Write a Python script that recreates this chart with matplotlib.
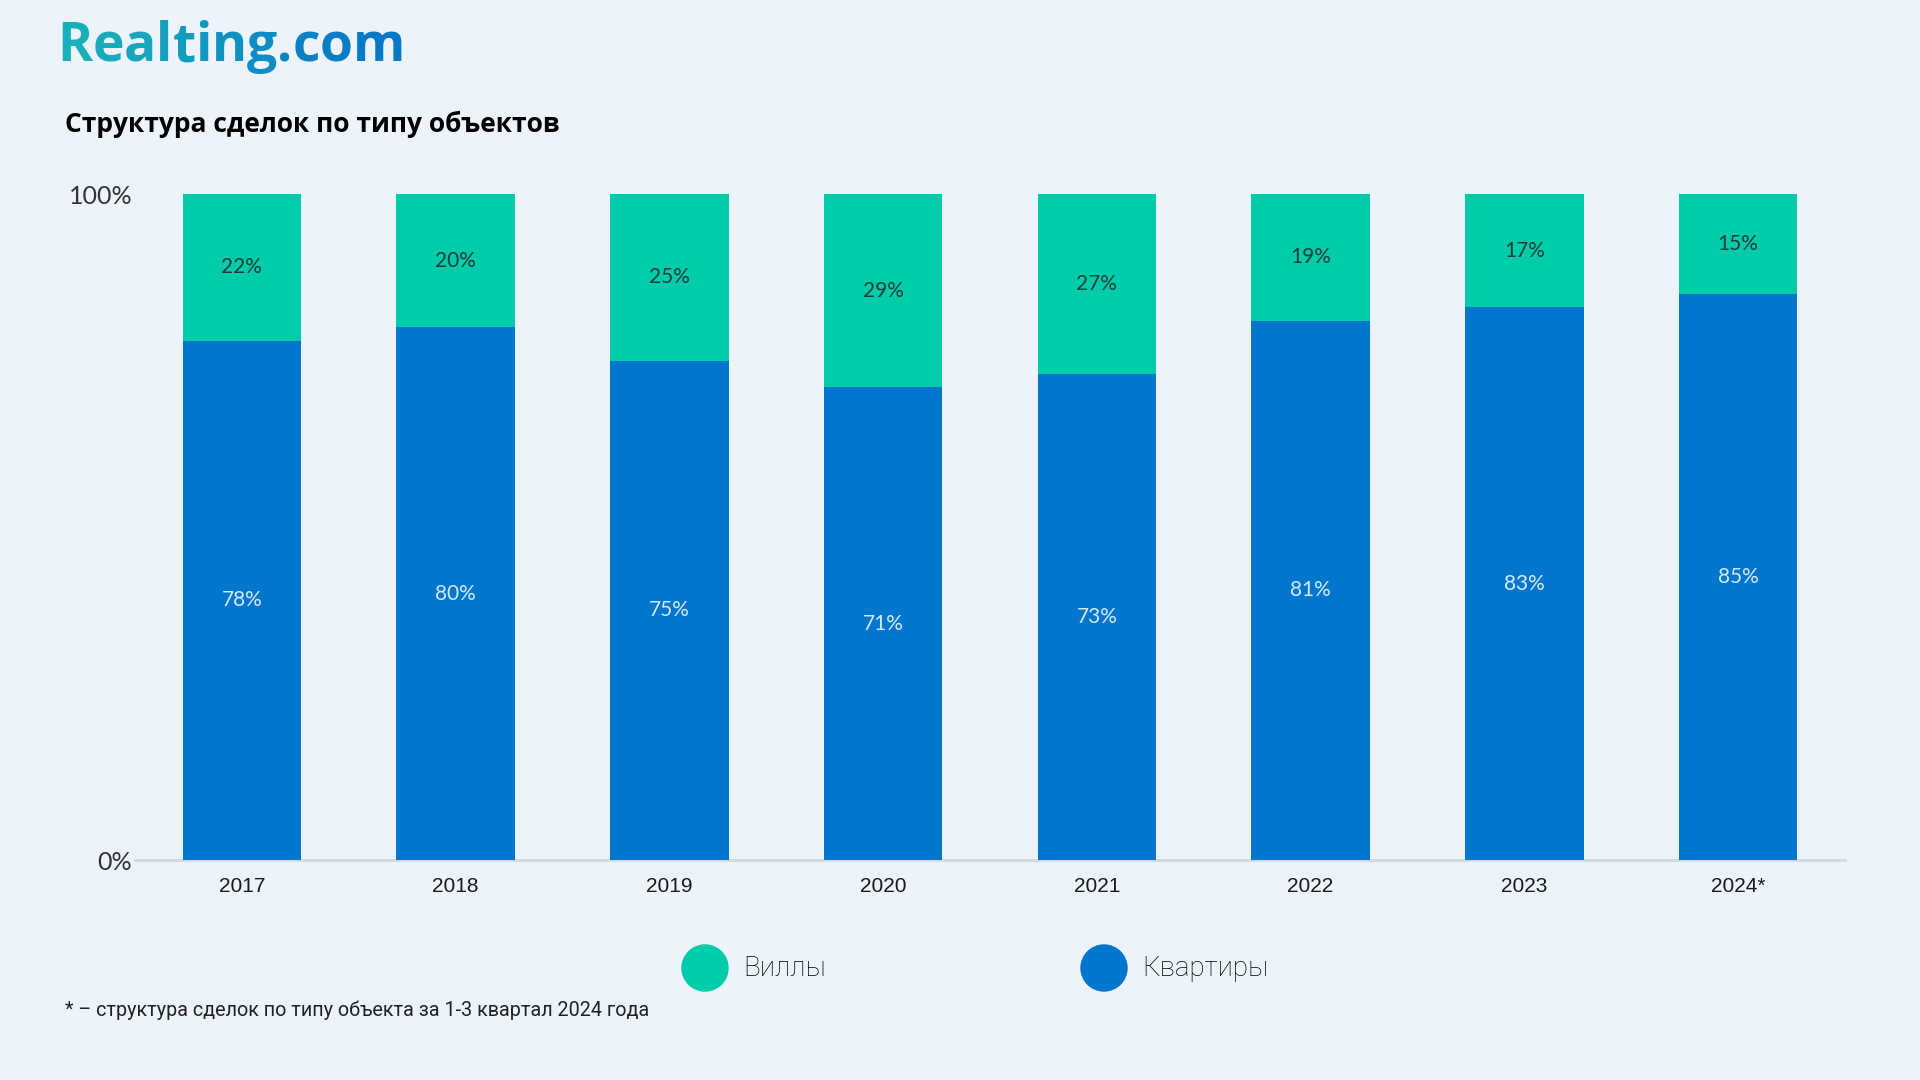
import matplotlib
matplotlib.use("Agg")
import matplotlib.pyplot as plt
from matplotlib.patches import Ellipse
import numpy as np

years = ['2017', '2018', '2019', '2020', '2021', '2022', '2023', '2024*']
flats = [78, 80, 75, 71, 73, 81, 83, 85]    # Квартиры
villas = [22, 20, 25, 29, 27, 19, 17, 15]   # Виллы
series_names = ['Виллы', 'Квартиры']

bg = '#EDF3FB'
green = '#00CCAA'
blue = '#0077CC'

fig = plt.figure(figsize=(19.2, 10.8), dpi=100, facecolor=bg)
ax = fig.add_axes([135 / 1920, 1 - 860 / 1080, (1845 - 135) / 1920, (860 - 194) / 1080])
ax.set_facecolor(bg)

x = np.arange(len(years))
w = 0.555
ax.bar(x, flats, w, color=blue, linewidth=0, zorder=2)
ax.bar(x, villas, w, bottom=flats, color=green, linewidth=0, zorder=2)

# подписи внутри сегментов
for i in range(len(years)):
    ax.text(x[i], flats[i] / 2, '%d%%' % flats[i], ha='center', va='center',
            fontsize=15, color='#D6E9F8', family='Lato')
    ax.text(x[i], flats[i] + villas[i] / 2, '%d%%' % villas[i], ha='center', va='center',
            fontsize=15, color='#1F3D3A', family='Lato')

ax.set_xlim(-0.5, 7.5)
ax.set_ylim(0, 100)
ax.set_yticks([0, 100])
ax.set_yticklabels(['0%', '100%'], fontsize=18, color='#333333', family='Lato')
ax.set_xticks(x)
ax.set_xticklabels(years, fontsize=15, color='#1a1a1a', family='Liberation Sans')
ax.tick_params(axis='both', length=0)
ax.tick_params(axis='x', pad=12)
ax.tick_params(axis='y', pad=2)
for s in ['top', 'right', 'left']:
    ax.spines[s].set_visible(False)
ax.spines['bottom'].set_color('#D3D8DE')
ax.spines['bottom'].set_linewidth(2)
ax.spines['bottom'].set_zorder(1)

# логотип с градиентом
logo = 'Realting.com'
c0 = np.array([0x1A, 0xB0, 0xBA]) / 255
c1 = np.array([0x08, 0x78, 0xC8]) / 255
fig.canvas.draw()
renderer = fig.canvas.get_renderer()
xpos = 57 / 1920
for k, ch in enumerate(logo):
    t = k / (len(logo) - 1)
    col = c0 * (1 - t) + c1 * t
    tx = fig.text(xpos, 1 - 61 / 1080, ch, fontsize=38.5, fontweight='bold', family='Open Sans',
                  color=col, ha='left', va='baseline')
    bb = tx.get_window_extent(renderer)
    xpos += bb.width / 1920

fig.text(65 / 1920, 1 - 124 / 1080, 'Структура сделок по типу объектов', fontsize=19,
         fontweight='bold', family='Open Sans', color='black', ha='left', va='center')

# легенда
for cx, col, name, tx0 in [(705, green, series_names[0], 743), (1104, blue, series_names[1], 1142)]:
    fig.add_artist(Ellipse((cx / 1920, 1 - 968 / 1080), 46 / 1920, 46 / 1080,
                           transform=fig.transFigure, color=col))
    fig.text(tx0 / 1920, 1 - 968 / 1080, name, fontsize=20, family='Roboto', fontweight='light',
             color='#000000', ha='left', va='center')

fig.text(65 / 1920, 1 - 1010 / 1080, '* – структура сделок по типу объекта за 1-3 квартал 2024 года',
         fontsize=14.2, family='Roboto', color='#222222', ha='left', va='center')

fig.savefig('out.png', dpi=100, facecolor=bg)
